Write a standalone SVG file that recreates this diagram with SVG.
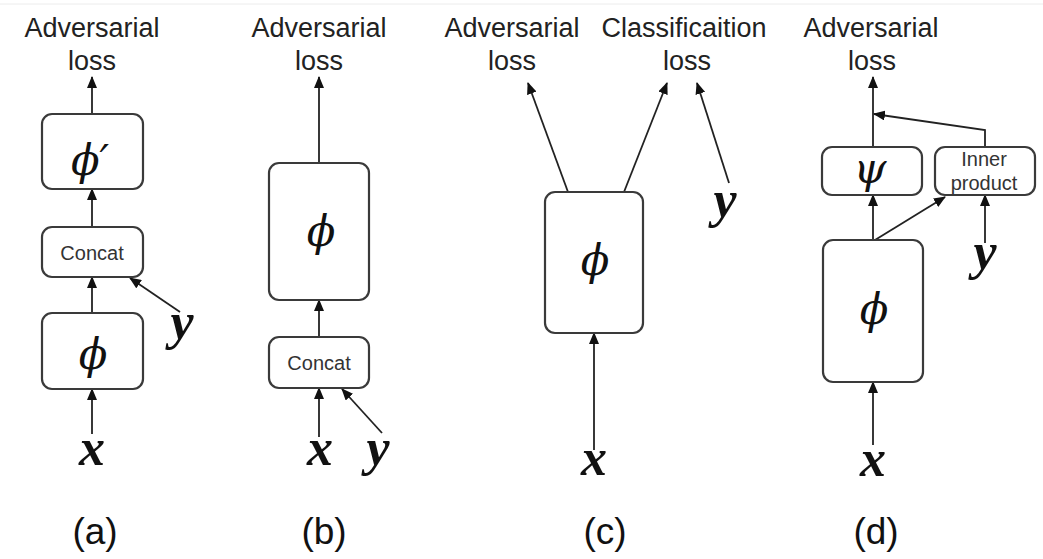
<svg xmlns="http://www.w3.org/2000/svg" width="1043" height="559" viewBox="0 0 1043 559">
<defs>
<marker id="ah" markerUnits="userSpaceOnUse" markerWidth="12" markerHeight="10" viewBox="0 0 12 10" refX="11" refY="5" orient="auto">
<path d="M0,0 L12,5 L0,10 Z" fill="#111"/>
</marker>
<style>
.box{fill:#fff;stroke:#3a3a3a;stroke-width:2.2}
.ln{fill:none;stroke:#222;stroke-width:1.8;marker-end:url(#ah)}
.lbl{font-family:"Liberation Sans",Arial,sans-serif;font-size:27px;fill:#222;text-anchor:middle}
.sm{font-family:"Liberation Sans",Arial,sans-serif;font-size:20px;fill:#333;text-anchor:middle}
.cap{font-family:"Liberation Sans",Arial,sans-serif;font-size:37px;fill:#111;text-anchor:middle}
.gr{font-family:"DejaVu Serif",serif;font-style:italic;font-size:42px;fill:#111;text-anchor:middle}
.bv{font-family:"Liberation Serif","Times New Roman",serif;font-style:italic;font-weight:bold;font-size:52px;fill:#111;text-anchor:middle}
</style>
</defs>
<rect width="1043" height="559" fill="#fff"/>
<line x1="0" y1="4" x2="1043" y2="4" stroke="#ececec" stroke-width="1"/>

<g id="connectors">
<line class="ln" x1="92" y1="114" x2="92" y2="77"/>
<line class="ln" x1="92" y1="227" x2="92" y2="189"/>
<line class="ln" x1="92" y1="313" x2="92" y2="277"/>
<line class="ln" x1="92" y1="434" x2="92" y2="389"/>
<line class="ln" x1="180" y1="312" x2="130" y2="278"/>
<line class="ln" x1="319" y1="163" x2="319" y2="77"/>
<line class="ln" x1="319" y1="337" x2="319" y2="300"/>
<line class="ln" x1="319" y1="437" x2="319" y2="388"/>
<line class="ln" x1="382" y1="433" x2="342" y2="389"/>
<line class="ln" x1="568" y1="192" x2="528" y2="83"/>
<line class="ln" x1="624" y1="192" x2="667" y2="83"/>
<line class="ln" x1="729" y1="183" x2="697" y2="83"/>
<line class="ln" x1="594" y1="450" x2="594" y2="333"/>
<line class="ln" x1="873" y1="147" x2="873" y2="77"/>
<polyline class="ln" points="985,147 985,130 874,114"/>
<line class="ln" x1="873" y1="240" x2="873" y2="195"/>
<line class="ln" x1="875" y1="240" x2="945" y2="197"/>
<line class="ln" x1="873" y1="445" x2="873" y2="382"/>
<line class="ln" x1="985" y1="243" x2="985" y2="195"/>
</g>

<g id="a-loss"><text class="lbl" x="92" y="37">Adversarial</text><text class="lbl" x="92" y="70">loss</text></g>
<g id="a-phiprime"><rect class="box" x="42" y="114" width="101" height="75" rx="10"/><text class="gr" x="90" y="175">ϕ′</text></g>
<g id="a-concat"><rect class="box" x="42" y="227" width="101" height="50" rx="10"/><text class="sm" x="92" y="260">Concat</text></g>
<g id="a-phi"><rect class="box" x="42" y="313" width="101" height="76" rx="10"/><text class="gr" x="93" y="369">ϕ</text></g>
<g id="a-x"><text class="bv" x="92" y="465">x</text></g>
<g id="a-y"><text class="bv" x="182" y="339">y</text></g>

<g id="b-loss"><text class="lbl" x="319" y="37">Adversarial</text><text class="lbl" x="319" y="70">loss</text></g>
<g id="b-phi"><rect class="box" x="269" y="163" width="100" height="137" rx="10"/><text class="gr" x="321" y="246">ϕ</text></g>
<g id="b-concat"><rect class="box" x="269" y="337" width="100" height="51" rx="10"/><text class="sm" x="319" y="370">Concat</text></g>
<g id="b-x"><text class="bv" x="320" y="465">x</text></g>
<g id="b-y"><text class="bv" x="378" y="465">y</text></g>

<g id="c-adv"><text class="lbl" x="512" y="37">Adversarial</text><text class="lbl" x="512" y="70">loss</text></g>
<g id="c-cls"><text class="lbl" x="684" y="37">Classificaition</text><text class="lbl" x="687" y="70">loss</text></g>
<g id="c-phi"><rect class="box" x="545" y="192" width="98" height="141" rx="10"/><text class="gr" x="595" y="275">ϕ</text></g>
<g id="c-x"><text class="bv" x="594" y="475">x</text></g>
<g id="c-y"><text class="bv" x="725" y="217">y</text></g>

<g id="d-loss"><text class="lbl" x="871" y="37">Adversarial</text><text class="lbl" x="872" y="70">loss</text></g>
<g id="d-psi"><rect class="box" x="822" y="147" width="100" height="48" rx="10"/><text class="gr" x="870" y="183">ψ</text></g>
<g id="d-inner"><rect class="box" x="935" y="147" width="100" height="48" rx="10"/><text class="sm" x="984" y="166">Inner</text><text class="sm" x="984" y="190">product</text></g>
<g id="d-phi"><rect class="box" x="823" y="240" width="100" height="142" rx="10"/><text class="gr" x="874" y="324">ϕ</text></g>
<g id="d-x"><text class="bv" x="873" y="476">x</text></g>
<g id="d-y"><text class="bv" x="985" y="269">y</text></g>

<g id="captions">
<text class="cap" x="95" y="544">(a)</text>
<text class="cap" x="324" y="544">(b)</text>
<text class="cap" x="605" y="544">(c)</text>
<text class="cap" x="876" y="544">(d)</text>
</g>
</svg>
